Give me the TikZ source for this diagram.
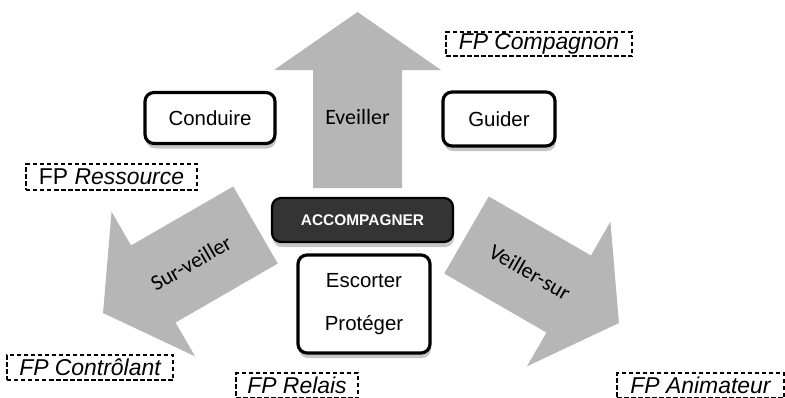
\documentclass[tikz,border=0pt]{standalone}
\usepackage{fontspec}
\setmainfont{Liberation Sans}
\newfontfamily\calibrifont{Carlito}
\usetikzlibrary{shadows}
\definecolor{arrowgray}{RGB}{182,182,182}
\definecolor{darkbox}{RGB}{52,52,52}

\begin{document}
\begin{tikzpicture}[x=1bp,y=1bp]
        % Define styles
        \tikzset{
            role/.style={rectangle, rounded corners=9bp, draw, line width=3.2bp, fill=white,
                drop shadow={shadow xshift=1bp, shadow yshift=-5bp, opacity=0.45},
                font=\fontsize{20.5}{24}\selectfont},
            mainrole/.style={role, line width=2.2bp, fill=darkbox, text=white,
                font=\bfseries\fontsize{15.5}{18}\selectfont},
            fp/.style={rectangle, draw, dash pattern=on 4.5bp off 2.5bp, line width=1.7bp,
                inner sep=0pt, font=\itshape\fontsize{23}{24}\selectfont},
            verb/.style={font=\calibrifont\fontsize{22}{24}\selectfont},
            bigarrow/.style={fill=arrowgray}
        }
        \clip (0,0) rectangle (785,-397);

        % Arrows (tail centre / direction)
        \foreach \x/\y/\a in {357.5/-188/90, 255.5/-225/210, 466.5/-235/-30}
            \fill[bigarrow, shift={(\x,\y)}, rotate=\a]
                (0,-44.5) -- (118,-44.5) -- (118,-83.5) -- (176,0)
                -- (118,83.5) -- (118,44.5) -- (0,44.5) -- cycle;

        \node[verb] (verb_node_1) at (357.5,-117) {Eveiller};
        \node[verb, rotate=30] (verb_node_2) at (191,-263) {Sur-veiller};
        \node[verb, rotate=-30] (verb_node_3) at (530,-272) {Veiller-sur};

        % Nodes
        \node[role, minimum width=130bp, minimum height=51bp] (role_node_1) at (210,-118) {Conduire};
        \node[role, minimum width=112bp, minimum height=54bp] (role_node_2) at (499,-119) {Guider};
        \node[mainrole, minimum width=181bp, minimum height=44bp] (role_node_3) at (362.5,-220) {ACCOMPAGNER};
        \node[role, minimum width=132bp, minimum height=98bp, align=center,
              font=\fontsize{20.5}{43}\selectfont] (role_node_4) at (364,-304) {Escorter\\Protéger};

        % Dashed labels
        \node[fp, minimum width=186bp, minimum height=24bp] (fp_node_1) at (539,-44) {FP Compagnon};
        \node[fp, minimum width=171bp, minimum height=26bp] (fp_node_2) at (111.5,-177) {\upshape FP \itshape Ressource};
        \node[fp, minimum width=166bp, minimum height=25bp] (fp_node_3) at (90,-367.5) {FP Contrôlant};
        \node[fp, minimum width=122bp, minimum height=25bp] (fp_node_4) at (297,-385.5) {FP Relais};
        \node[fp, minimum width=167bp, minimum height=25bp] (fp_node_5) at (700.5,-385.5) {FP Animateur};
    \end{tikzpicture}
\end{document}
